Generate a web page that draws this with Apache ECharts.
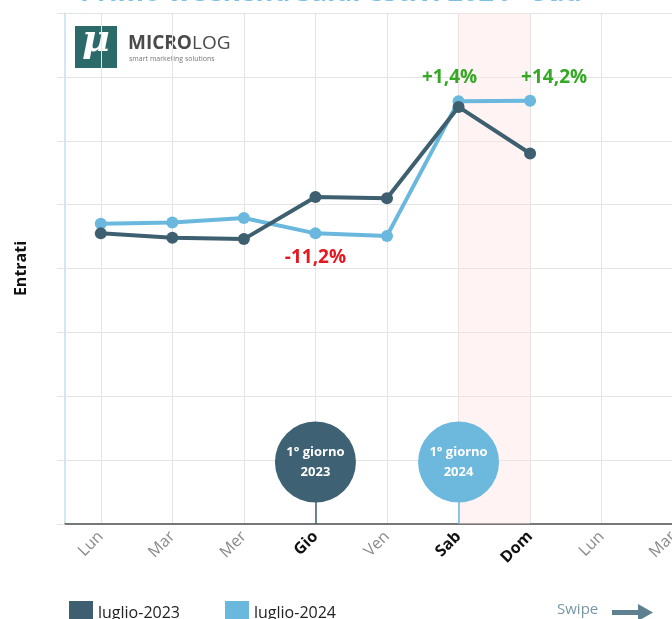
<!DOCTYPE html>
<html>
<head>
<meta charset="utf-8">
<style>
  html, body { margin: 0; padding: 0; background: #fff; }
  #chart { width: 672px; height: 619px; }
</style>
<script src="https://cdn.jsdelivr.net/npm/echarts@6/dist/echarts.min.js"></script>
</head>
<body>
<div id="chart"></div>
<script>
// --- Data ---
const days = ['Lun', 'Mar', 'Mer', 'Gio', 'Ven', 'Sab', 'Dom', 'Lun', 'Mar'];
const boldDays = [3, 5, 6];
const entrati2023 = [4550, 4480, 4460, 5120, 5100, 6530, 5800, null, null];
const entrati2024 = [4700, 4720, 4790, 4550, 4510, 6620, 6625, null, null];
const seriesNames = ['luglio-2023', 'luglio-2024'];
// percentage notes on the 2024 line: index -> text
const noteIndex = [3, 5, 6];
const noteText = ['-11,2%', '+1,4%', '+14,2%'];
// "first day" markers: category index per year
const firstDay2023 = 3;
const firstDay2024 = 5;

const DARK = '#3e5f6f';
const LIGHT = '#6ab8de';
const FONT = 'Open Sans';

const chart = echarts.init(document.getElementById('chart'));

const noteStyle = (i) => {
    const neg = noteText[i].startsWith('-');
    const offsets = [[0, 0], [-9, 0], [24, 0]];
    return {
        show: true,
        formatter: noteText[i],
        position: neg ? 'bottom' : 'top',
        distance: neg ? 9 : 8,
        offset: offsets[i],
        color: neg ? '#e5171f' : '#35a825',
        fontSize: 19,
        fontWeight: 'bold',
        fontFamily: FONT
    };
};

const data2024 = entrati2024.map((v, i) => {
    const k = noteIndex.indexOf(i);
    return k >= 0 ? { value: v, label: noteStyle(k) } : v;
});

const bubble = (idx, year, color) => ({
    symbol: 'circle',
    symbolSize: 81,
    silent: true,
    itemStyle: { color: color },
    label: {
        show: true,
        formatter: '1° giorno\n' + year,
        color: '#fff',
        fontSize: 13,
        fontWeight: 'bold',
        fontFamily: FONT,
        lineHeight: 20
    },
    data: [{ coord: [idx, 970] }]
});

const stem = (idx, color) => ({
    silent: true,
    symbol: 'none',
    label: { show: false },
    lineStyle: { color: color, width: 1.5, type: 'solid' },
    data: [[{ coord: [idx, 0] }, { coord: [idx, 500] }]]
});

const option = {
    animation: false,
    title: {
        text: 'Primo weekend saldi estivi 2024 - Sud',
        left: 75,
        top: -25,
        textStyle: { color: '#7cc0e4', fontSize: 27, fontWeight: 'bold', fontFamily: FONT }
    },
    grid: { left: 65, width: 644, top: 13, height: 511, outerBoundsMode: 'none' },
    legend: {
        left: 64,
        top: 596,
        icon: 'rect',
        itemWidth: 24,
        itemHeight: 24,
        itemGap: 45,
        textStyle: { color: '#222', fontSize: 16, fontFamily: FONT },
        data: seriesNames
    },
    xAxis: {
        type: 'category',
        data: days,
        boundaryGap: true,
        axisLine: { lineStyle: { color: '#777', width: 2 } },
        axisTick: { alignWithLabel: true, length: 8, lineStyle: { color: '#777' } },
        splitLine: { show: true, alignWithLabel: true, lineStyle: { color: '#e4e4e4' } },
        axisLabel: {
            rotate: 45,
            margin: 10,
            interval: 0,
            fontSize: 16,
            fontFamily: FONT,
            color: '#8a8a8a',
            formatter: (v, i) => boldDays.includes(i) ? '{b|' + v + '}' : v,
            rich: { b: { fontSize: 16, fontWeight: 'bold', color: '#111', fontFamily: FONT } }
        }
    },
    yAxis: {
        type: 'value',
        min: 0,
        max: 8000,
        interval: 1000,
        name: 'Entrati',
        nameLocation: 'middle',
        nameGap: 36,
        nameTextStyle: { fontSize: 16, fontWeight: 'bold', color: '#111', fontFamily: FONT },
        axisLine: { show: true, lineStyle: { color: '#c4def0', width: 1.5 } },
        axisTick: { show: true, length: 8, lineStyle: { color: '#e4e4e4' } },
        axisLabel: { show: false },
        splitLine: { lineStyle: { color: '#e4e4e4' } }
    },
    series: [
        {
            name: seriesNames[0],
            type: 'line',
            data: entrati2023,
            color: DARK,
            symbol: 'circle',
            symbolSize: 12,
            lineStyle: { width: 4 },
            z: 3,
            markArea: {
                silent: true,
                itemStyle: { color: 'rgba(255,225,225,0.4)' },
                data: [[{ xAxis: 5 }, { xAxis: 6 }]]
            },
            markLine: stem(firstDay2023, DARK),
            markPoint: bubble(firstDay2023, 2023, '#3e6173')
        },
        {
            name: seriesNames[1],
            type: 'line',
            data: data2024,
            color: LIGHT,
            symbol: 'circle',
            symbolSize: 12,
            lineStyle: { width: 4 },
            z: 2,
            markLine: stem(firstDay2024, LIGHT),
            markPoint: bubble(firstDay2024, 2024, '#6db9de')
        }
    ],
    graphic: [
        { type: 'rect', left: 75, top: 26, shape: { width: 42, height: 42 }, style: { fill: '#2b6a69' } },
        { type: 'text', left: 82, top: 22, style: { text: 'μ', fill: '#fff', font: 'italic bold 38px "DejaVu Serif"' } },
        {
            type: 'text', left: 128, top: 34,
            style: {
                text: '{a|MICRO}{b|LOG}',
                rich: {
                    a: { fontSize: 19, fontWeight: 'bold', fill: '#4a4a4a', fontFamily: FONT },
                    b: { fontSize: 19, fontWeight: 'normal', fill: '#4a4a4a', fontFamily: FONT }
                }
            }
        },
        { type: 'text', left: 129, top: 55, style: { text: 'smart marketing solutions', fill: '#777', font: '7px "Open Sans"' } },
        { type: 'text', left: 557, top: 602, style: { text: 'Swipe', fill: '#7896a5', font: '15px "Open Sans"' } },
        { type: 'rect', left: 612, top: 610, shape: { width: 28, height: 5 }, style: { fill: '#5f8091' } },
        { type: 'polygon', shape: { points: [[638, 604], [653, 612.5], [638, 621]] }, style: { fill: '#5f8091' } }
    ]
};

chart.setOption(option);
</script>
</body>
</html>
